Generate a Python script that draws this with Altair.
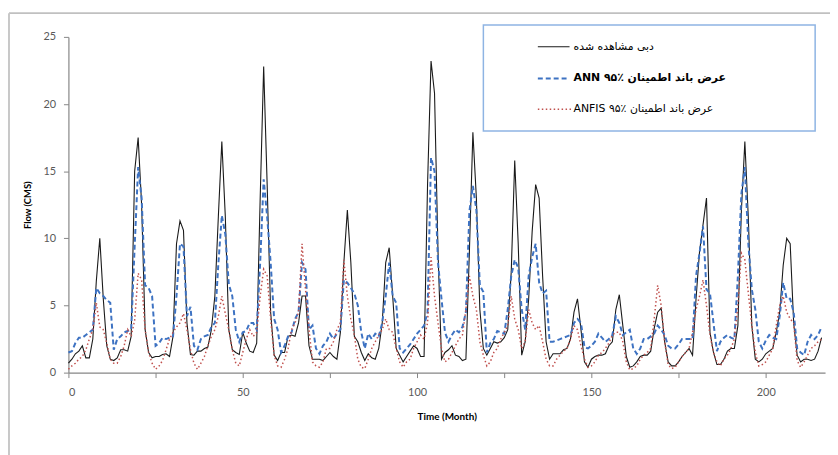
import altair as alt
import pandas as pd

months = list(range(217))

observed = [
    0.7, 1.0, 1.4, 1.6, 2.0, 1.1, 1.1, 2.5, 6.8, 10.0, 5.5, 2.0,
    1.0, 0.9, 1.1, 1.7, 1.7, 1.6, 2.7, 15.0, 17.5, 12.5, 3.2, 1.5,
    1.1, 1.2, 1.2, 1.35, 1.4, 1.2, 2.7, 9.6, 11.3, 10.6, 3.7, 1.35,
    1.3, 1.6, 1.6, 1.8, 1.9, 3.2, 5.7, 11.6, 17.2, 11.6, 3.2, 1.7,
    1.5, 1.35, 3.0, 2.2, 1.6, 1.5, 2.2, 13.0, 22.8, 14.0, 4.5, 1.3,
    0.9, 1.5, 1.5, 2.7, 2.8, 2.7, 3.7, 5.7, 5.7, 2.0, 1.0, 1.0,
    1.0, 0.9, 1.2, 1.5, 1.2, 1.0, 3.0, 8.2, 12.1, 8.2, 2.7, 2.3,
    1.5, 0.9, 1.4, 1.1, 1.0, 1.8, 3.7, 8.2, 9.3, 5.7, 1.8, 1.3,
    0.8, 1.2, 1.6, 2.0, 1.8, 1.2, 1.2, 14.0, 23.2, 20.8, 9.0, 1.0,
    1.5, 1.7, 2.0, 1.3, 1.2, 0.9, 1.0, 9.0, 17.9, 13.0, 4.7, 1.8,
    1.3, 1.8, 2.3, 2.2, 2.3, 2.6, 3.2, 7.5, 15.8, 9.6, 1.3, 2.3,
    5.5, 10.5, 14.0, 13.0, 7.2, 2.3, 1.0, 1.4, 1.4, 1.4, 1.7, 1.8,
    2.5, 4.5, 5.5, 3.2, 0.8, 0.4, 1.0, 1.2, 1.3, 1.3, 1.4, 2.0,
    2.3, 4.7, 5.8, 3.5, 1.2, 0.4, 0.5, 0.8, 1.2, 1.3, 1.3, 1.6,
    3.3, 4.5, 4.8, 2.3, 0.8, 0.5, 0.5, 0.8, 1.2, 1.5, 1.8, 1.3,
    5.5, 9.0, 11.0, 13.0, 3.0, 1.5, 0.6, 0.6, 1.0, 1.6, 1.8, 1.8,
    3.5, 12.0, 17.2, 11.5, 3.5, 1.0, 0.8, 1.0, 1.4, 1.6, 1.8, 3.0,
    4.5, 8.0, 10.0, 9.6, 3.7, 1.3, 0.8, 1.0, 1.0, 0.9, 1.0, 1.6,
    2.6,
]

ann = [
    1.5, 1.6, 2.2, 2.6, 2.6, 2.8, 3.0, 3.2, 6.3, 5.9, 5.7, 5.4,
    5.2, 1.7, 2.5, 2.7, 3.0, 3.1, 3.2, 9.4, 15.3, 13.0, 6.5, 6.3,
    5.7, 2.0, 2.2, 2.6, 2.5, 2.6, 2.7, 5.7, 9.6, 9.4, 4.2, 4.9,
    2.0, 1.7, 2.5, 2.7, 2.8, 3.4, 3.7, 8.1, 11.7, 10.3, 6.6, 5.7,
    3.2, 2.3, 3.0, 3.1, 3.7, 3.7, 3.2, 8.2, 14.4, 11.6, 8.2, 4.0,
    3.2, 1.5, 2.0, 2.7, 3.0, 4.0, 4.5, 8.2, 7.7, 3.2, 3.5, 1.8,
    1.4, 2.0, 2.3, 2.9, 2.5, 2.9, 3.2, 6.9, 6.7, 6.3, 5.9, 5.0,
    3.0, 1.8, 2.9, 2.5, 2.9, 2.7, 3.7, 5.7, 8.2, 5.7, 5.2, 1.8,
    1.5, 1.8, 2.1, 2.5, 2.9, 3.2, 3.5, 4.5, 16.0, 15.0, 8.2, 5.5,
    3.0, 2.3, 2.8, 3.2, 3.0, 3.4, 4.5, 12.0, 13.9, 12.1, 6.5, 6.0,
    1.5, 2.2, 2.5, 3.1, 3.0, 2.9, 4.7, 7.2, 8.4, 7.8, 4.7, 3.2,
    7.2, 8.6, 9.6, 6.7, 5.9, 6.1, 2.3, 2.3, 2.4, 2.5, 2.6, 2.7,
    2.8, 3.7, 4.0, 3.7, 1.9, 1.8, 2.0, 2.3, 2.9, 2.6, 2.3, 2.5,
    2.8, 4.2, 3.7, 2.8, 3.0, 3.2, 1.8, 1.4, 1.8, 2.5, 2.5, 2.7,
    2.9, 3.5, 3.2, 2.8, 2.0, 1.8, 1.8, 2.1, 2.5, 2.5, 2.5, 2.5,
    7.2, 8.9, 10.9, 6.2, 5.9, 3.7, 1.6, 2.3, 2.6, 2.8, 2.6, 2.5,
    7.2, 13.3, 15.3, 9.6, 6.2, 4.7, 2.3, 1.8, 2.4, 2.8, 2.6, 2.5,
    4.2, 6.7, 5.5, 5.5, 4.5, 1.8, 1.5, 1.3, 2.3, 2.8, 2.5, 2.8,
    3.4,
]

anfis = [
    0.25, 0.5, 0.7, 1.0, 1.2, 1.7, 2.5, 3.2, 5.2, 3.4, 3.2, 2.2,
    1.0, 0.7, 0.7, 1.2, 2.0, 3.2, 2.7, 3.9, 7.4, 6.9, 3.2, 1.5,
    0.7, 0.25, 0.5, 0.9, 1.7, 2.5, 3.0, 3.4, 3.7, 4.4, 3.2, 1.7,
    0.7, 0.25, 0.7, 1.2, 2.0, 2.7, 3.2, 4.2, 5.7, 4.4, 3.2, 1.7,
    0.7, 0.5, 1.5, 2.5, 3.2, 2.7, 3.0, 5.7, 7.7, 7.2, 4.0, 1.3,
    0.5, 0.4, 1.0, 1.8, 3.2, 3.7, 4.5, 9.6, 6.2, 3.2, 0.8, 0.5,
    0.4, 0.8, 1.8, 1.8, 2.3, 3.2, 3.7, 8.4, 5.7, 4.0, 2.8, 1.0,
    0.4, 0.3, 1.0, 1.8, 2.3, 2.8, 3.2, 4.0, 3.2, 3.0, 1.8, 0.8,
    0.4, 0.8, 1.0, 1.8, 2.3, 2.8, 2.5, 3.7, 8.6, 5.7, 3.7, 1.8,
    0.8, 1.0, 1.5, 2.0, 2.5, 2.8, 4.7, 7.2, 5.7, 4.7, 2.3, 1.3,
    0.5, 0.8, 1.5, 1.8, 2.5, 3.0, 3.5, 5.7, 4.0, 3.2, 1.8, 2.3,
    4.7, 3.7, 3.2, 3.5, 2.3, 1.0, 0.5, 0.5, 1.0, 1.3, 1.6, 1.8,
    2.5, 3.5, 3.2, 2.0, 1.0, 0.4, 0.5, 0.8, 1.3, 1.5, 1.8, 2.2,
    2.8, 3.0, 3.0, 2.3, 0.8, 0.2, 0.3, 0.5, 1.0, 1.3, 1.5, 1.8,
    4.0, 6.5, 5.0, 2.3, 0.6, 0.3, 0.4, 0.8, 1.2, 1.5, 1.8, 3.0,
    4.7, 5.7, 6.9, 5.0, 2.8, 1.5, 0.8, 0.5, 1.0, 1.3, 1.8, 2.5,
    5.0, 8.9, 8.4, 5.9, 3.5, 1.5, 0.5, 0.6, 0.8, 1.3, 1.8, 3.5,
    5.0, 5.7, 4.5, 4.0, 3.7, 0.9, 0.4, 0.8, 1.3, 1.8, 2.0, 2.3,
    2.5,
]

legend_labels = [
    "دبی مشاهده شده",
    "ANN ۹۵٪ عرض باند اطمینان",
    "ANFIS ۹۵٪ عرض باند اطمینان",
]

x_ticks = [0, 25, 50, 75, 100, 125, 150, 175, 200]
y_ticks = [0, 5, 10, 15, 20, 25]

df = pd.DataFrame({"month": months, "observed": observed, "ann": ann, "anfis": anfis})

AXIS_FONT = "Lato"
GRAY = "#868686"
LABEL = "#595959"

x_enc = alt.X(
    "month:Q",
    scale=alt.Scale(domain=[0, 217], nice=False, zero=False),
    axis=alt.Axis(
        values=x_ticks,
        labelExpr="datum.value % 50 == 0 ? datum.label : ''",
        title="Time (Month)",
        titleFont=AXIS_FONT, titleFontSize=10, titleFontWeight="bold", titleColor="#000000",
        titlePadding=14,
        labelFont=AXIS_FONT, labelFontSize=11, labelColor=LABEL, labelPadding=9,
        tickSize=5, tickColor=GRAY, domainColor=GRAY, domainWidth=1.2, grid=False,
    ),
)

def y_enc(field):
    return alt.Y(
        f"{field}:Q",
        scale=alt.Scale(domain=[0, 25], nice=False),
        axis=alt.Axis(
            values=y_ticks,
            title="Flow (CMS)",
            titleFont=AXIS_FONT, titleFontSize=9.5, titleFontWeight="bold", titleColor="#000000",
            titlePadding=11,
            labelFont=AXIS_FONT, labelFontSize=11, labelColor=LABEL, labelPadding=8,
            tickSize=5, tickColor=GRAY, domainColor=GRAY, domainWidth=1.2, grid=False,
        ),
    )

base = alt.Chart(df)
obs_line = base.mark_line(color="#1a1a1a", strokeWidth=1.1).encode(x=x_enc, y=y_enc("observed"))
ann_line = base.mark_line(color="#3D72C2", strokeWidth=2, strokeDash=[5, 3]).encode(x=x_enc, y=y_enc("ann"))
anfis_line = base.mark_line(color="#C0504D", strokeWidth=1.5, strokeDash=[1.5, 2.5]).encode(x=x_enc, y=y_enc("anfis"))

one = alt.Data(values=[{"k": 1}])

# outer frame lines
frame_top = alt.Chart(one).mark_rule(color="#C0C0C0", strokeWidth=2).encode(
    x=alt.value(-60), x2=alt.value(775), y=alt.value(-24), y2=alt.value(-24))
frame_left = alt.Chart(one).mark_rule(color="#C8C8C8", strokeWidth=2).encode(
    x=alt.value(-60), x2=alt.value(-60), y=alt.value(-24), y2=alt.value(425))

# manual legend
box = alt.Chart(one).mark_rect(fill="white", stroke="#8EB4E3", strokeWidth=1.5).encode(
    x=alt.value(419), x2=alt.value(754), y=alt.value(-12), y2=alt.value(95))
s1 = alt.Chart(one).mark_rule(color="#1a1a1a", strokeWidth=1.1).encode(
    x=alt.value(474), x2=alt.value(506), y=alt.value(10), y2=alt.value(10))
s2 = alt.Chart(one).mark_rule(color="#3D72C2", strokeWidth=2, strokeDash=[5, 3]).encode(
    x=alt.value(474), x2=alt.value(506), y=alt.value(42), y2=alt.value(42))
s3 = alt.Chart(one).mark_rule(color="#C0504D", strokeWidth=1.5, strokeDash=[1.5, 2.5]).encode(
    x=alt.value(474), x2=alt.value(508), y=alt.value(73), y2=alt.value(73))
t1 = alt.Chart(one).mark_text(align="left", baseline="middle", font="DejaVu Sans", fontSize=11, color="#000").encode(
    x=alt.value(510), y=alt.value(10), text=alt.value(legend_labels[0]))
t2 = alt.Chart(one).mark_text(align="left", baseline="middle", font="DejaVu Sans", fontSize=11, fontWeight="bold", color="#000").encode(
    x=alt.value(510), y=alt.value(42), text=alt.value(legend_labels[1]))
t3 = alt.Chart(one).mark_text(align="left", baseline="middle", font="DejaVu Sans", fontSize=11, color="#000").encode(
    x=alt.value(510), y=alt.value(73), text=alt.value(legend_labels[2]))

chart = alt.layer(
    obs_line, ann_line, anfis_line, frame_top, frame_left, box, s1, s2, s3, t1, t2, t3
).properties(
    width=764, height=339,
    autosize=alt.AutoSizeParams(type="none"),
    padding={"left": 61, "top": 27, "right": 5, "bottom": 81},
    background="white",
).configure_view(stroke=None)

chart.save("out.html", embed_options={"renderer": "svg", "actions": False})
